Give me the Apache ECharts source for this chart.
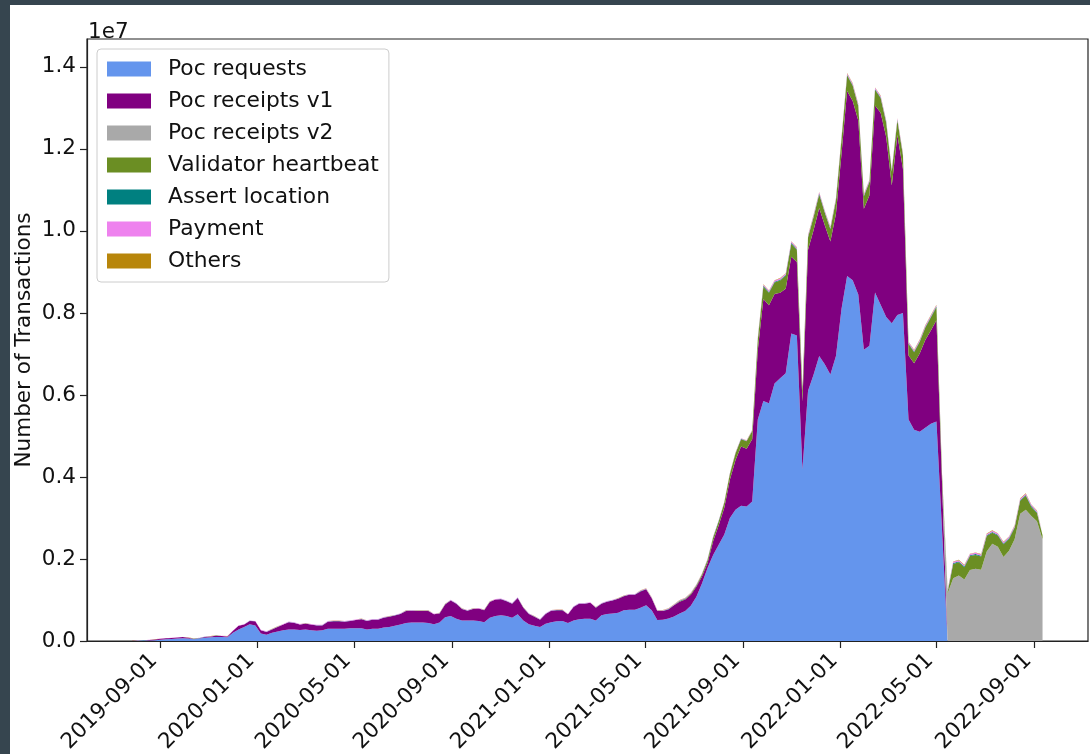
<!DOCTYPE html>
<html>
<head>
<meta charset="utf-8">
<title>Transactions by type</title>
<script src="https://cdn.jsdelivr.net/npm/echarts@6/dist/echarts.min.js"></script>
<style>
  html, body { margin: 0; padding: 0; background: #36454f; }
  #chart { position: absolute; left: 10px; top: 5px; width: 1080px; height: 749px; background: #fff; }
</style>
</head>
<body>
<div id="chart"></div>
<script>
// weekly transaction counts, in millions, first week 2019-07-28
const weekCount = 164;

const pocRequests = [
  0, 0.004, 0.01, 0.015, 0.02, 0.03, 0.04, 0.05, 0.06, 0.07,
  0.06, 0.04, 0.06, 0.08, 0.09, 0.10, 0.10, 0.09, 0.20, 0.28,
  0.34, 0.41, 0.38, 0.18, 0.15, 0.20, 0.23, 0.26, 0.28, 0.28,
  0.27, 0.28, 0.26, 0.25, 0.26, 0.30, 0.30, 0.30, 0.30, 0.31,
  0.31, 0.31, 0.28, 0.30, 0.30, 0.33, 0.34, 0.37, 0.40, 0.44,
  0.45, 0.45, 0.45, 0.44, 0.41, 0.45, 0.58, 0.61, 0.54, 0.50,
  0.50, 0.50, 0.49, 0.46, 0.57, 0.61, 0.63, 0.61, 0.57, 0.65,
  0.50, 0.41, 0.37, 0.34, 0.42, 0.46, 0.48, 0.49, 0.44, 0.50,
  0.53, 0.54, 0.54, 0.50, 0.63, 0.66, 0.67, 0.69, 0.75, 0.76,
  0.76, 0.81, 0.87, 0.75, 0.51, 0.52, 0.55, 0.60, 0.67, 0.73,
  0.86, 1.08, 1.40, 1.78, 2.10, 2.35, 2.60, 3.00, 3.20, 3.30,
  3.28, 3.40, 5.40, 5.85, 5.80, 6.28, 6.41, 6.53, 7.50, 7.45,
  4.18, 6.10, 6.50, 6.95, 6.75, 6.50, 6.95, 8.10, 8.90, 8.80,
  8.45, 7.10, 7.20, 8.50, 8.20, 7.90, 7.75, 7.95, 8.00, 5.40,
  5.15, 5.10, 5.20, 5.30, 5.35, 2.70, 0
];

const pocReceiptsV1 = [
  0.005, 0.003, 0.005, 0.01, 0.015, 0.025, 0.025, 0.025, 0.025, 0.025,
  0.02, 0.01, 0.01, 0.02, 0.02, 0.03, 0.02, 0.02, 0.05, 0.09,
  0.06, 0.08, 0.10, 0.08, 0.07, 0.08, 0.11, 0.14, 0.18, 0.16,
  0.13, 0.14, 0.14, 0.13, 0.12, 0.17, 0.18, 0.18, 0.17, 0.18,
  0.20, 0.22, 0.21, 0.22, 0.22, 0.24, 0.25, 0.25, 0.26, 0.29,
  0.29, 0.28, 0.28, 0.29, 0.24, 0.22, 0.31, 0.38, 0.37, 0.28,
  0.24, 0.28, 0.30, 0.29, 0.38, 0.40, 0.39, 0.36, 0.34, 0.40,
  0.31, 0.25, 0.22, 0.18, 0.24, 0.28, 0.27, 0.26, 0.21, 0.33,
  0.38, 0.37, 0.39, 0.31, 0.28, 0.30, 0.32, 0.34, 0.34, 0.37,
  0.37, 0.40, 0.39, 0.29, 0.22, 0.21, 0.22, 0.27, 0.29, 0.28,
  0.27, 0.24, 0.17, 0.12, 0.33, 0.47, 0.65, 0.93, 1.21, 1.44,
  1.41, 1.52, 1.69, 2.49, 2.39, 2.18, 2.08, 2.06, 1.87, 1.79,
  1.66, 3.44, 3.52, 3.61, 3.39, 3.24, 3.47, 3.79, 4.51, 4.37,
  4.24, 3.44, 3.67, 4.56, 4.68, 4.39, 3.36, 4.39, 3.51, 1.56,
  1.62, 1.91, 2.14, 2.27, 2.47, 1.16, 0
];

// starts at week 145 (2022-05-08)
const v2FirstWeek = 145;
const pocReceiptsV2 = [
  0, 1.16, 1.53, 1.60, 1.50, 1.73, 1.76, 1.74, 2.18, 2.37,
  2.30, 2.05, 2.20, 2.48, 3.10, 3.20, 3.05, 2.92, 2.48
];

// starts at week 98 (2021-06-13)
const heartbeatFirstWeek = 98;
const validatorHeartbeat = [
  0.01, 0.015, 0.02, 0.03, 0.05, 0.07, 0.09, 0.10, 0.12, 0.14,
  0.16, 0.18, 0.18, 0.20, 0.25, 0.30, 0.30, 0.28, 0.30, 0.32,
  0.32, 0.30, 0.25, 0.30, 0.32, 0.33, 0.30, 0.30, 0.32, 0.35,
  0.38, 0.37, 0.35, 0.30, 0.32, 0.38, 0.36, 0.35, 0.33, 0.35,
  0.33, 0.28, 0.27, 0.28, 0.30, 0.32, 0.32, 0.18, 0.03, 0.35,
  0.32, 0.30, 0.34, 0.34, 0.32, 0.38, 0.27, 0.27, 0.31, 0.29,
  0.28, 0.32, 0.34, 0.22, 0.20, 0.10
];

const assertLocation = [
  0.001, 0.001, 0.001, 0.001, 0.001, 0.001, 0.001, 0.001, 0.001, 0.001,
  0.002, 0.002, 0.002, 0.002, 0.002, 0.002, 0.002, 0.002, 0.002, 0.002,
  0.002, 0.002, 0.002, 0.005, 0.005, 0.005, 0.005, 0.005, 0.005, 0.005,
  0.005, 0.005, 0.005, 0.005, 0.005, 0.005, 0.005, 0.005, 0.005, 0.005,
  0.005, 0.005, 0.005, 0.005, 0.005, 0.005, 0.005, 0.005, 0.005, 0.005,
  0.005, 0.005, 0.005, 0.005, 0.005, 0.005, 0.005, 0.005, 0.005, 0.005,
  0.005, 0.005, 0.005, 0.005, 0.005, 0.005, 0.005, 0.005, 0.005, 0.005,
  0.005, 0.005, 0.005, 0.005, 0.005, 0.005, 0.005, 0.005, 0.005, 0.005,
  0.005, 0.005, 0.005, 0.005, 0.005, 0.005, 0.005, 0.005, 0.005, 0.005,
  0.005, 0.01, 0.01, 0.01, 0.01, 0.01, 0.01, 0.01, 0.01, 0.01,
  0.01, 0.01, 0.01, 0.01, 0.01, 0.01, 0.01, 0.01, 0.01, 0.01,
  0.01, 0.01, 0.02, 0.02, 0.02, 0.02, 0.02, 0.02, 0.02, 0.02,
  0.02, 0.02, 0.02, 0.02, 0.02, 0.02, 0.02, 0.02, 0.02, 0.02,
  0.02, 0.02, 0.02, 0.02, 0.02, 0.02, 0.02, 0.02, 0.02, 0.02,
  0.02, 0.02, 0.02, 0.02, 0.02, 0.02, 0.02, 0.02, 0.02, 0.02,
  0.02, 0.02, 0.02, 0.02, 0.02, 0.02, 0.02, 0.02, 0.02, 0.02,
  0.02, 0.02, 0.02, 0.02
];

const payment = [
  0.003, 0.003, 0.003, 0.003, 0.003, 0.003, 0.003, 0.003, 0.003, 0.003,
  0.005, 0.005, 0.005, 0.005, 0.005, 0.005, 0.005, 0.005, 0.005, 0.005,
  0.005, 0.005, 0.005, 0.01, 0.01, 0.01, 0.01, 0.01, 0.01, 0.01,
  0.01, 0.01, 0.01, 0.01, 0.01, 0.01, 0.01, 0.01, 0.01, 0.01,
  0.01, 0.01, 0.01, 0.01, 0.01, 0.01, 0.01, 0.01, 0.01, 0.01,
  0.01, 0.01, 0.01, 0.01, 0.01, 0.01, 0.01, 0.01, 0.01, 0.01,
  0.01, 0.01, 0.01, 0.01, 0.01, 0.01, 0.01, 0.01, 0.01, 0.01,
  0.01, 0.01, 0.01, 0.01, 0.01, 0.01, 0.01, 0.01, 0.01, 0.01,
  0.01, 0.01, 0.01, 0.01, 0.01, 0.01, 0.01, 0.01, 0.01, 0.01,
  0.01, 0.012, 0.012, 0.012, 0.012, 0.012, 0.012, 0.012, 0.012, 0.012,
  0.012, 0.012, 0.012, 0.012, 0.012, 0.012, 0.012, 0.012, 0.012, 0.012,
  0.012, 0.012, 0.03, 0.03, 0.03, 0.03, 0.03, 0.03, 0.03, 0.03,
  0.03, 0.03, 0.03, 0.03, 0.03, 0.03, 0.03, 0.03, 0.03, 0.03,
  0.03, 0.03, 0.03, 0.03, 0.03, 0.03, 0.03, 0.03, 0.03, 0.03,
  0.03, 0.03, 0.03, 0.03, 0.03, 0.03, 0.03, 0.03, 0.03, 0.03,
  0.03, 0.03, 0.03, 0.03, 0.03, 0.03, 0.03, 0.03, 0.03, 0.03,
  0.03, 0.03, 0.03, 0.03
];

const others = [
  0.001, 0.001, 0.001, 0.001, 0.001, 0.001, 0.001, 0.001, 0.001, 0.001,
  0.002, 0.002, 0.002, 0.002, 0.002, 0.002, 0.002, 0.002, 0.002, 0.002,
  0.002, 0.002, 0.002, 0.002, 0.002, 0.002, 0.002, 0.002, 0.002, 0.002,
  0.002, 0.002, 0.002, 0.002, 0.002, 0.002, 0.002, 0.002, 0.002, 0.002,
  0.002, 0.002, 0.002, 0.002, 0.002, 0.002, 0.002, 0.002, 0.002, 0.002,
  0.002, 0.002, 0.002, 0.002, 0.002, 0.002, 0.002, 0.002, 0.002, 0.002,
  0.002, 0.002, 0.002, 0.002, 0.002, 0.002, 0.002, 0.002, 0.002, 0.002,
  0.002, 0.002, 0.002, 0.002, 0.002, 0.002, 0.002, 0.002, 0.002, 0.002,
  0.002, 0.002, 0.002, 0.002, 0.002, 0.002, 0.002, 0.002, 0.002, 0.002,
  0.002, 0.005, 0.005, 0.005, 0.005, 0.005, 0.005, 0.005, 0.005, 0.005,
  0.005, 0.005, 0.005, 0.005, 0.005, 0.005, 0.005, 0.005, 0.005, 0.005,
  0.005, 0.005, 0.01, 0.01, 0.01, 0.01, 0.01, 0.01, 0.01, 0.01,
  0.01, 0.01, 0.01, 0.01, 0.01, 0.01, 0.01, 0.01, 0.01, 0.01,
  0.01, 0.01, 0.01, 0.01, 0.01, 0.01, 0.01, 0.01, 0.01, 0.01,
  0.01, 0.01, 0.01, 0.01, 0.01, 0.01, 0.01, 0.01, 0.01, 0.01,
  0.01, 0.01, 0.01, 0.01, 0.01, 0.01, 0.01, 0.01, 0.01, 0.01,
  0.01, 0.01, 0.01, 0.01
];

const tickDates = [
  '2019-09-01', '2020-01-01', '2020-05-01', '2020-09-01', '2021-01-01',
  '2021-05-01', '2021-09-01', '2022-01-01', '2022-05-01', '2022-09-01'
];
const yTicks = [0, 0.2, 0.4, 0.6, 0.8, 1.0, 1.2, 1.4]; // x 1e7

const seriesList = [
  { name: 'Poc requests', values: pocRequests, offset: 0, color: '#6495ed' },
  { name: 'Poc receipts v1', values: pocReceiptsV1, offset: 0, color: '#800080' },
  { name: 'Poc receipts v2', values: pocReceiptsV2, offset: v2FirstWeek, color: '#a9a9a9' },
  { name: 'Validator heartbeat', values: validatorHeartbeat, offset: heartbeatFirstWeek, color: '#6b8e23' },
  { name: 'Assert location', values: assertLocation, offset: 0, color: '#008080' },
  { name: 'Payment', values: payment, offset: 0, color: '#ee82ee' },
  { name: 'Others', values: others, offset: 0, color: '#b8860b' }
];

function dayStamp(iso) {
  const p = iso.split('-').map(Number);
  return new Date(p[0], p[1] - 1, p[2]).getTime();
}

const weeks = [];
for (let i = 0; i < weekCount; i++) {
  weeks.push(new Date(2019, 6, 28 + 7 * i).getTime());
}

// stacking goes by index, so every series spans all weeks
function toPoints(values, offset) {
  return weeks.map((t, i) => {
    const k = i - offset;
    const v = k >= 0 && k < values.length ? values[k] : 0;
    return [t, v * 1e6];
  });
}

function isoDate(value) {
  const d = new Date(value);
  const mm = String(d.getMonth() + 1).padStart(2, '0');
  const dd = String(d.getDate()).padStart(2, '0');
  return d.getFullYear() + '-' + mm + '-' + dd;
}

const font = '"DejaVu Sans", sans-serif';
const fontSize = 21.5;
const ink = '#111';
const xMin = dayStamp('2019-06-01');
const xMax = dayStamp('2022-11-07');
const xTicks = tickDates.map(dayStamp);
const yTickValues = yTicks.map(v => v * 1e7);

const chart = echarts.init(document.getElementById('chart'));

chart.setOption({
  animation: false,
  grid: {
    left: 77, right: 2, top: 34, bottom: 113,
    outerBoundsMode: 'none',
    show: true, borderColor: '#222', borderWidth: 1.2
  },
  legend: {
    orient: 'vertical',
    left: 87, top: 44,
    padding: [9, 10, 10, 10],
    itemWidth: 44, itemHeight: 15, itemGap: 10,
    icon: 'rect',
    backgroundColor: 'rgba(255,255,255,0.8)',
    borderColor: '#cccccc', borderWidth: 1, borderRadius: 4,
    textStyle: { fontFamily: font, fontSize: 21.8, color: ink, padding: [0, 0, 0, 12] },
    data: seriesList.map(s => s.name)
  },
  graphic: [{
    type: 'text',
    x: 78, y: 27,
    style: { text: '1e7', font: fontSize + 'px ' + font, fill: ink, textVerticalAlign: 'middle' }
  }],
  xAxis: [
    {
      // the series sit on a time axis so only the counts are stacked
      type: 'time', min: xMin, max: xMax, show: false
    },
    {
      // same span, drawn with the 4-monthly date ticks
      type: 'value', min: xMin, max: xMax, position: 'bottom',
      splitLine: { show: false },
      axisLine: { lineStyle: { color: '#222', width: 1.2 } },
      axisTick: { customValues: xTicks, length: 7, lineStyle: { color: '#222', width: 1.2 } },
      axisLabel: {
        customValues: xTicks,
        rotate: 45, margin: 10,
        padding: [0, 9, 0, 0],
        fontFamily: font, fontSize: fontSize, color: ink,
        formatter: isoDate
      }
    }
  ],
  yAxis: {
    type: 'value',
    min: 0, max: 14.68e6,
    name: 'Number of Transactions',
    nameLocation: 'middle', nameGap: 52,
    nameMoveOverlap: false,
    nameTextStyle: { fontFamily: font, fontSize: fontSize, color: ink },
    splitLine: { show: false },
    axisLine: { show: true, lineStyle: { color: '#222', width: 1.2 } },
    axisTick: { show: true, customValues: yTickValues, length: 7, lineStyle: { color: '#222', width: 1.2 } },
    axisLabel: {
      customValues: yTickValues,
      margin: 11,
      fontFamily: font, fontSize: fontSize, color: ink,
      formatter: v => (v / 1e7).toFixed(1)
    }
  },
  series: seriesList.map(s => ({
    name: s.name,
    type: 'line',
    xAxisIndex: 0,
    stack: 'all',
    symbol: 'none',
    color: s.color,
    lineStyle: { width: 0 },
    areaStyle: { color: s.color, opacity: 1 },
    emphasis: { disabled: true },
    data: toPoints(s.values, s.offset)
  }))
});
</script>
</body>
</html>
